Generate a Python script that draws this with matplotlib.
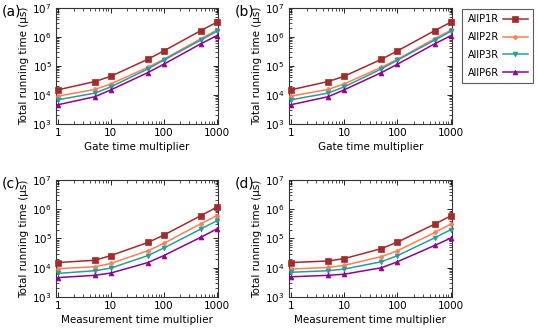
import matplotlib
matplotlib.use("Agg")
import matplotlib.pyplot as plt
from matplotlib.ticker import LogLocator, NullFormatter

x = [1, 5, 10, 50, 100, 500, 1000]
series_names = ["AllP1R", "AllP2R", "AllP3R", "AllP6R"]

gate_p1 = [1.5e4, 2.9e4, 4.4e4, 1.7e5, 3.3e5, 1.65e6, 3.2e6]
gate_p2 = [9.1e3, 1.55e4, 2.4e4, 9.0e4, 1.7e5, 8.7e5, 1.7e6]
gate_p3 = [6.8e3, 1.16e4, 1.9e4, 7.9e4, 1.58e5, 7.8e5, 1.55e6]
gate_p6 = [4.6e3, 8.7e3, 1.5e4, 5.9e4, 1.15e5, 5.8e5, 1.1e6]

meas_c_p1 = [1.5e4, 1.8e4, 2.6e4, 7.3e4, 1.3e5, 6.0e5, 1.17e6]
meas_c_p2 = [9.3e3, 1.08e4, 1.4e4, 3.8e4, 6.8e4, 3.2e5, 6.0e5]
meas_c_p3 = [6.4e3, 7.9e3, 9.7e3, 2.6e4, 4.7e4, 2.1e5, 4.0e5]
meas_c_p6 = [4.6e3, 5.5e3, 6.6e3, 1.5e4, 2.6e4, 1.1e5, 2.1e5]

meas_d_p1 = [1.5e4, 1.7e4, 2.05e4, 4.5e4, 7.5e4, 3.1e5, 5.9e5]
meas_d_p2 = [9.0e3, 1.02e4, 1.2e4, 2.4e4, 3.8e4, 1.6e5, 3.1e5]
meas_d_p3 = [7.0e3, 7.9e3, 9.0e3, 1.6e4, 2.6e4, 1.05e5, 2.0e5]
meas_d_p6 = [4.9e3, 5.5e3, 6.0e3, 1.0e4, 1.6e4, 5.8e4, 1.03e5]

panels = [
    ("(a)", "Gate time multiplier", [gate_p1, gate_p2, gate_p3, gate_p6]),
    ("(b)", "Gate time multiplier", [gate_p1, gate_p2, gate_p3, gate_p6]),
    ("(c)", "Measurement time multiplier", [meas_c_p1, meas_c_p2, meas_c_p3, meas_c_p6]),
    ("(d)", "Measurement time multiplier", [meas_d_p1, meas_d_p2, meas_d_p3, meas_d_p6]),
]

colors = ["#a52a2a", "#ff7f50", "#20a0a0", "#940094"]
markers = ["s", "P", "v", "^"]
msizes = [4.5, 3.0, 3.5, 3.5]

fig = plt.figure(figsize=(5.38, 3.28), dpi=100)
rects = [
    [0.104, 0.622, 0.301, 0.354],
    [0.537, 0.622, 0.303, 0.354],
    [0.104, 0.0945, 0.301, 0.357],
    [0.537, 0.0945, 0.303, 0.357],
]
fs = 7.5
handles = None
for (lab, xl, data), r in zip(panels, rects):
    ax = fig.add_axes(r)
    hs = []
    for name, y, c, m, ms in zip(series_names, data, colors, markers, msizes):
        h, = ax.plot(x, y, color=c, marker=m, markersize=ms, linewidth=1.1,
                     markeredgewidth=0.5, label=name, clip_on=False, zorder=3)
        hs.append(h)
    handles = hs
    ax.set_xscale("log")
    ax.set_yscale("log")
    ax.set_xlim(0.92, 1050)
    ax.set_ylim(1e3, 1e7)
    ax.set_xticks([1, 10, 100, 1000])
    ax.set_xticklabels(["1", "10", "100", "1000"])
    ax.xaxis.set_minor_locator(LogLocator(base=10, subs=range(2, 10)))
    ax.xaxis.set_minor_formatter(NullFormatter())
    ax.set_yticks([1e3, 1e4, 1e5, 1e6, 1e7])
    ax.yaxis.set_minor_locator(LogLocator(base=10, subs=range(2, 10)))
    ax.yaxis.set_minor_formatter(NullFormatter())
    ax.tick_params(which="both", direction="in", top=True, right=True, labelsize=fs, pad=3)
    ax.tick_params(which="major", length=3.5, width=0.6)
    ax.tick_params(which="minor", length=2, width=0.5)
    for s in ax.spines.values():
        s.set_linewidth(0.8)
        s.set_color("#333333")
    ax.set_xlabel(xl, fontsize=fs, labelpad=3)
    ax.set_ylabel("Total running time (μs)", fontsize=fs, labelpad=2)
    fig.text(r[0] - 0.1, r[1] + r[3] - 0.01, lab, fontsize=10, ha="left", va="center")

leg = fig.legend(handles, series_names, loc="upper left", bbox_to_anchor=(0.859, 0.973),
                 fontsize=7, markerfirst=False, frameon=True, fancybox=False,
                 edgecolor="#333333", handlelength=2.6, labelspacing=0.8,
                 borderpad=0.55, handletextpad=0.4, borderaxespad=0.0)
leg.get_frame().set_linewidth(0.8)

fig.savefig("out.png", dpi=100)
